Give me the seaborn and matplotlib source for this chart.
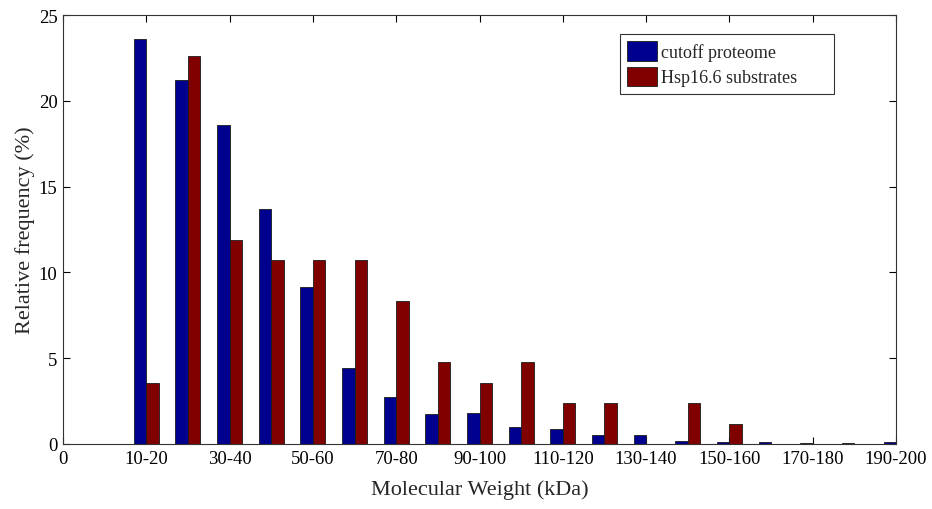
import numpy as np
import pandas as pd
import seaborn as sns
from matplotlib import pyplot as plt

# molecular weight bins (kDa)
categories = ['10-20', '20-30', '30-40', '40-50', '50-60', '60-70', '70-80',
              '80-90', '90-100', '100-110', '110-120', '120-130', '130-140',
              '140-150', '150-160', '160-170', '170-180', '180-190', '190-200']

# relative frequency (%)
cutoff_proteome = [23.6, 21.2, 18.6, 13.7, 9.15, 4.4, 2.75, 1.73, 1.78, 1.0,
                   0.85, 0.52, 0.52, 0.17, 0.12, 0.12, 0.05, 0.05, 0.12]
hsp_substrates = [3.57, 22.62, 11.9, 10.71, 10.71, 10.71, 8.33, 4.76, 3.57,
                  4.76, 2.38, 2.38, 0.0, 2.38, 1.19, 0.0, 0.0, 0.0, 0.0]

series_names = ['cutoff proteome', 'Hsp16.6 substrates']
tick_labels = ['0', '10-20', '30-40', '50-60', '70-80', '90-100', '110-120',
               '130-140', '150-160', '170-180', '190-200']

df = pd.DataFrame({
    'range': categories * 2,
    'freq': cutoff_proteome + hsp_substrates,
    'series': [series_names[0]] * len(categories) + [series_names[1]] * len(categories),
})

sns.set_style('ticks')
plt.rcParams['font.family'] = ['Liberation Serif', 'DejaVu Serif']

fig = plt.figure(figsize=(9.32, 5.10), dpi=100)
ax = fig.add_axes([0.0676, 0.1275, 0.8938, 0.8411])

sns.barplot(data=df, x='range', y='freq', hue='series', order=categories,
            hue_order=series_names, palette=['#00008f', '#800000'],
            width=0.6, saturation=1, edgecolor='#1a1a1a', linewidth=0.6,
            errorbar=None, ax=ax)

ax.set_xlim(-2, 18)
ax.set_ylim(0, 25)
ax.set_xticks(np.arange(-2, 19, 2))
ax.set_xticklabels(tick_labels)
ax.set_yticks([0, 5, 10, 15, 20, 25])
ax.tick_params(direction='in', top=True, right=True, length=5, width=0.8,
               labelsize=13.5, pad=4, colors='black')
for s in ax.spines.values():
    s.set_visible(True)
    s.set_linewidth(0.8)
    s.set_color('#333333')

ax.set_xlabel('Molecular Weight (kDa)', fontsize=16, labelpad=9)
ax.set_ylabel('Relative frequency (%)', fontsize=16, labelpad=3)

# legend box stretched to the width used in the original
leg = ax.legend(loc='upper left', bbox_to_anchor=(0.6687, 0.9557, 0.2569, 0.0),
                mode='expand', fontsize=13, frameon=True, fancybox=False,
                edgecolor='black', handlelength=1.65, handleheight=1.3,
                handletextpad=0.2, borderpad=0.4, labelspacing=0.3,
                borderaxespad=0)
leg.get_frame().set_linewidth(0.8)

plt.savefig('out.png', dpi=100)
